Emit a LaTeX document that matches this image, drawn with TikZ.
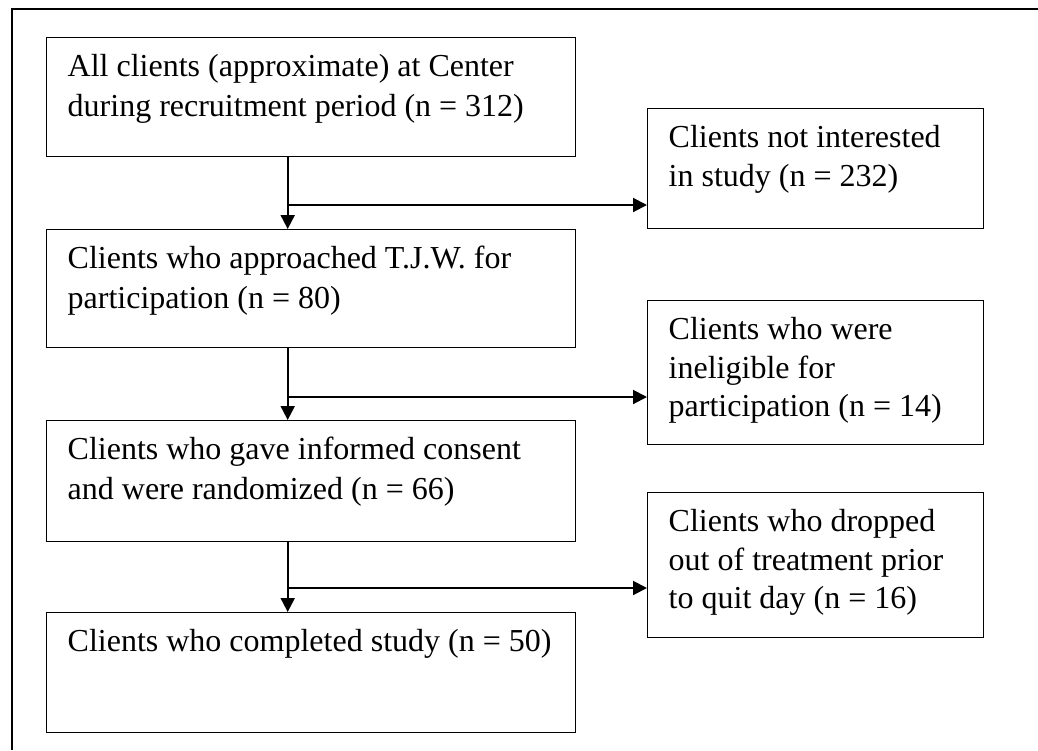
\documentclass[tikz,border=0pt]{standalone}
\usepackage{fontspec}
\setmainfont{Liberation Serif}
\usepackage{tikz}
\usetikzlibrary{arrows.meta, positioning}
\definecolor{mydark}{RGB}{0,0,0}
\tikzset{
  leftblock/.style={rectangle, draw=mydark, anchor=north west,
    text width=487pt, align=flush left, inner xsep=21pt, inner ysep=0pt,
    text height=39pt, font=\fontsize{32}{39.5}\selectfont, line width=1.4pt,
    execute at begin node={\spaceskip=0pt\relax\xspaceskip=0pt\relax}},
  rightblock/.style={rectangle, draw=mydark, anchor=north west,
    text width=294pt, align=flush left, inner xsep=21pt, inner ysep=0pt,
    text height=39pt, font=\fontsize{32}{38.5}\selectfont, line width=1.4pt,
    execute at begin node={\spaceskip=0pt\relax\xspaceskip=0pt\relax}},
  arrow/.style={-{Triangle[length=14pt,width=14pt]}, line width=2pt, color=mydark},
  frame/.style={line width=2.2pt, color=mydark}
}
\begin{document}
\begin{tikzpicture}[x=1pt, y=-1pt]
  \useasboundingbox (0,0) rectangle (1038,750);
  % frame (only top and left edges show)
  \draw[frame] (1038,9) -- (12,9) -- (12,750);
  % main column
  \node[leftblock, text depth=80pt] (all) at (46,37)
    {All clients (approximate) at Center\\during recruitment period (n = 312)};
  \node[leftblock, text depth=79pt] (approached) at (46,229)
    {Clients who approached T.J.W. for\\participation (n = 80)};
  \node[leftblock, text depth=82pt] (consent) at (46,420)
    {Clients who gave informed consent\\and were randomized (n = 66)};
  \node[leftblock, text depth=81pt] (completed) at (46,612)
    {\mbox{Clients who completed study (n = 50)}};
  % drop-outs
  \node[rightblock, text depth=81pt] (notint) at (647,108)
    {Clients not interested\\in study (n = 232)};
  \node[rightblock, text depth=105pt] (inelig) at (647,300)
    {Clients who were\\ineligible for\\participation (n = 14)};
  \node[rightblock, text depth=106pt] (dropped) at (647,492)
    {Clients who dropped\\out of treatment prior\\to quit day (n = 16)};
  % downward arrows
  \draw[arrow] ([xshift=-23.5pt]all.south) -- ([xshift=-23.5pt]approached.north);
  \draw[arrow] ([xshift=-23.5pt]approached.south) -- ([xshift=-23.5pt]consent.north);
  \draw[arrow] ([xshift=-23.5pt]consent.south) -- ([xshift=-23.5pt]completed.north);
  % side branches
  \coordinate (br1) at ([xshift=-23.5pt,yshift=24pt]approached.north);
  \coordinate (br2) at ([xshift=-23.5pt,yshift=23pt]consent.north);
  \coordinate (br3) at ([xshift=-23.5pt,yshift=24pt]completed.north);
  \draw[arrow] (br1) -- (br1 -| notint.west);
  \draw[arrow] (br2) -- (br2 -| inelig.west);
  \draw[arrow] (br3) -- (br3 -| dropped.west);
\end{tikzpicture}
\end{document}
